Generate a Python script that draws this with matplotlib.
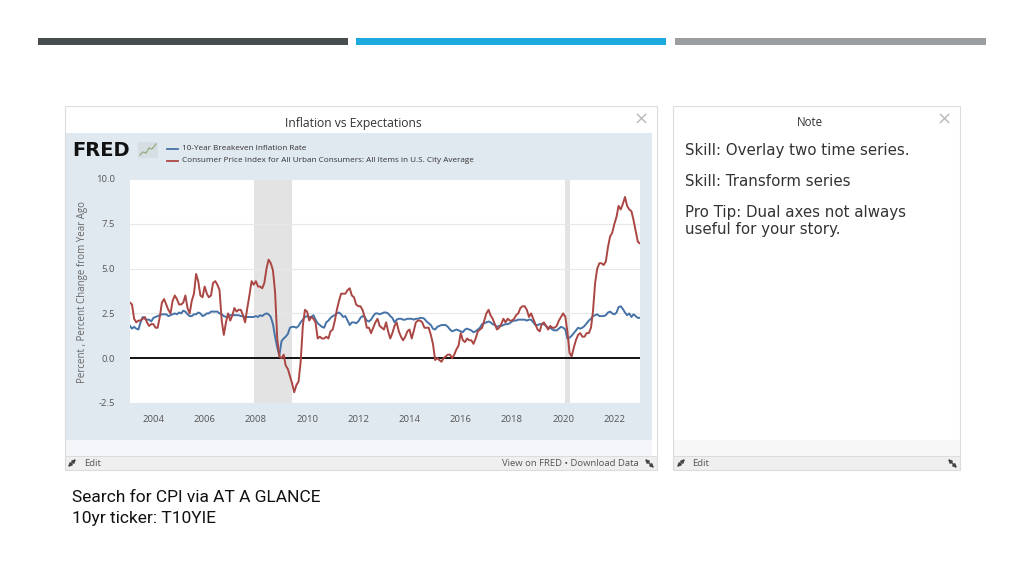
"""
Inflation vs Expectations slide (FRED screenshot recreated)
"""

import matplotlib
matplotlib.use('Agg')
import matplotlib.pyplot as plt
import matplotlib.dates as mdates
from matplotlib.patches import Rectangle
import pandas as pd

# monthly, Feb 2003 .. Jan 2023
months = pd.date_range('2003-02-01', '2023-01-01', freq='MS')

cpi_yoy = [
    3.1, 3.0, 2.2, 2.0, 2.1, 2.1, 2.2, 2.3, 2.0, 1.8, 1.9,        # 2003 (from Feb)
    1.9, 1.7, 1.7, 2.3, 3.1, 3.3, 3.0, 2.7, 2.5, 3.2, 3.5, 3.3,   # 2004
    3.0, 3.0, 3.1, 3.5, 2.8, 2.5, 3.2, 3.6, 4.7, 4.3, 3.5, 3.4,   # 2005
    4.0, 3.6, 3.4, 3.5, 4.2, 4.3, 4.1, 3.8, 2.1, 1.3, 2.0, 2.5,   # 2006
    2.1, 2.4, 2.8, 2.6, 2.7, 2.7, 2.4, 2.0, 2.8, 3.5, 4.3, 4.1,   # 2007
    4.3, 4.0, 4.0, 3.9, 4.2, 5.0, 5.5, 5.3, 4.9, 3.7, 1.1, 0.1,   # 2008
    0.0, 0.2, -0.4, -0.6, -1.0, -1.4, -1.9, -1.5, -1.3, -0.2, 1.8, 2.7,  # 2009
    2.6, 2.1, 2.3, 2.2, 2.0, 1.1, 1.2, 1.1, 1.1, 1.2, 1.1, 1.5,   # 2010
    1.6, 2.1, 2.7, 3.2, 3.6, 3.6, 3.6, 3.8, 3.9, 3.5, 3.4, 3.0,   # 2011
    2.9, 2.9, 2.7, 2.3, 1.7, 1.7, 1.4, 1.7, 2.0, 2.2, 1.8, 1.7,   # 2012
    1.6, 2.0, 1.5, 1.1, 1.4, 1.8, 2.0, 1.5, 1.2, 1.0, 1.2, 1.5,   # 2013
    1.6, 1.1, 1.5, 2.0, 2.1, 2.1, 2.0, 1.7, 1.7, 1.7, 1.3, 0.8,   # 2014
    -0.1, 0.0, -0.1, -0.2, 0.0, 0.1, 0.2, 0.2, 0.0, 0.2, 0.5, 0.7,  # 2015
    1.4, 1.0, 0.9, 1.1, 1.0, 1.0, 0.8, 1.1, 1.5, 1.6, 1.7, 2.1,   # 2016
    2.5, 2.7, 2.4, 2.2, 1.9, 1.6, 1.7, 1.9, 2.2, 2.0, 2.2, 2.1,   # 2017
    2.1, 2.2, 2.4, 2.5, 2.8, 2.9, 2.9, 2.7, 2.3, 2.5, 2.2, 1.9,   # 2018
    1.6, 1.5, 1.9, 2.0, 1.8, 1.6, 1.8, 1.7, 1.7, 1.8, 2.1, 2.3,   # 2019
    2.5, 2.3, 1.5, 0.3, 0.1, 0.6, 1.0, 1.3, 1.4, 1.2, 1.2, 1.4,   # 2020
    1.4, 1.7, 2.6, 4.2, 5.0, 5.3, 5.3, 5.2, 5.4, 6.2, 6.8, 7.0,   # 2021
    7.5, 7.9, 8.5, 8.3, 8.6, 9.0, 8.5, 8.3, 8.2, 7.7, 7.1, 6.5,   # 2022
    6.4,                                                          # 2023 (Jan)
]

breakeven = [
    1.80, 1.65, 1.75, 1.65, 1.60, 2.00, 2.30, 2.20, 2.15, 2.15, 2.05,        # 2003 (from Feb)
    2.25, 2.30, 2.35, 2.40, 2.45, 2.45, 2.45, 2.35, 2.40, 2.45, 2.50, 2.45,  # 2004
    2.55, 2.50, 2.65, 2.60, 2.45, 2.35, 2.35, 2.45, 2.45, 2.55, 2.50, 2.35,  # 2005
    2.40, 2.50, 2.50, 2.60, 2.60, 2.60, 2.60, 2.50, 2.45, 2.35, 2.30, 2.35,  # 2006
    2.40, 2.40, 2.40, 2.40, 2.40, 2.35, 2.35, 2.30, 2.30, 2.30, 2.30, 2.30,  # 2007
    2.35, 2.30, 2.40, 2.35, 2.45, 2.50, 2.45, 2.30, 1.90, 1.20, 0.60, 0.15,  # 2008
    0.95, 1.10, 1.20, 1.35, 1.70, 1.75, 1.75, 1.70, 1.80, 2.00, 2.15, 2.30,  # 2009
    2.35, 2.30, 2.30, 2.40, 2.15, 1.95, 1.85, 1.75, 1.70, 2.00, 2.10, 2.25,  # 2010
    2.35, 2.40, 2.50, 2.55, 2.45, 2.30, 2.35, 2.10, 1.85, 2.00, 2.00, 1.95,  # 2011
    2.05, 2.25, 2.35, 2.30, 2.10, 2.05, 2.15, 2.35, 2.50, 2.50, 2.45, 2.50,  # 2012
    2.55, 2.55, 2.50, 2.35, 2.25, 2.00, 2.15, 2.20, 2.20, 2.15, 2.15, 2.20,  # 2013
    2.20, 2.20, 2.15, 2.20, 2.20, 2.25, 2.25, 2.20, 2.05, 1.95, 1.85, 1.65,  # 2014
    1.60, 1.75, 1.80, 1.85, 1.85, 1.85, 1.75, 1.60, 1.50, 1.55, 1.60, 1.55,  # 2015
    1.50, 1.45, 1.60, 1.65, 1.60, 1.55, 1.45, 1.50, 1.60, 1.70, 1.90, 1.95,  # 2016
    2.00, 2.05, 2.00, 1.90, 1.85, 1.75, 1.80, 1.80, 1.85, 1.90, 1.90, 1.95,  # 2017
    2.05, 2.10, 2.10, 2.15, 2.15, 2.15, 2.15, 2.10, 2.15, 2.15, 2.00, 1.85,  # 2018
    1.85, 1.90, 1.90, 1.90, 1.80, 1.70, 1.70, 1.60, 1.55, 1.55, 1.65, 1.75,  # 2019
    1.70, 1.60, 1.10, 1.15, 1.25, 1.40, 1.55, 1.70, 1.65, 1.70, 1.80, 1.95,  # 2020
    2.10, 2.20, 2.35, 2.40, 2.45, 2.35, 2.35, 2.35, 2.40, 2.55, 2.60, 2.50,  # 2021
    2.45, 2.55, 2.85, 2.90, 2.75, 2.55, 2.40, 2.50, 2.30, 2.45, 2.35, 2.25,  # 2022
    2.25,                                                                    # 2023 (Jan)
]

recessions = [('2007-12-01', '2009-06-01'), ('2020-02-01', '2020-04-01')]
y_ticks = [-2.5, 0.0, 2.5, 5.0, 7.5, 10.0]
x_tick_years = list(range(2004, 2023, 2))

series_names = ['10-Year Breakeven Inflation Rate',
                'Consumer Price Index for All Urban Consumers: All Items in U.S. City Average']
note_lines = ['Skill: Overlay two time series.', 'Skill: Transform series',
              'Pro Tip: Dual axes not always\nuseful for your story.']
caption_lines = ['Search for CPI via AT A GLANCE', '10yr ticker: T10YIE']

BLUE = '#4572a7'
RED = '#aa4643'
W, H = 1024, 576

fig = plt.figure(figsize=(W / 100, H / 100), dpi=100)
fig.patch.set_facecolor('white')

# background "slide" axes in pixel coordinates
bg = fig.add_axes([0, 0, 1, 1])
bg.set_xlim(0, W)
bg.set_ylim(H, 0)
bg.axis('off')


def box(x0, y0, x1, y1, fc, ec='none', lw=0, z=1):
    bg.add_patch(Rectangle((x0, y0), x1 - x0, y1 - y0, facecolor=fc,
                           edgecolor=ec, linewidth=lw, zorder=z))


def resize_icon(x0, y0, x1, y1):
    bg.annotate('', xy=(x1, y1), xytext=(x0, y0), zorder=5,
                arrowprops=dict(arrowstyle='<|-|>', color='#444444', lw=1.1,
                                mutation_scale=5, shrinkA=0, shrinkB=0))


# top bars
box(38, 38, 348, 45, '#474d4f')
box(356, 38, 666, 45, '#1ca9de')
box(675, 38, 986, 45, '#9b9ea1')

# left FRED panel
box(65, 106, 657, 470, 'white')
box(65, 133, 652, 440, '#e1e9f0')
box(65, 440, 652, 456, '#f3f5f8')
box(65, 456, 657, 470, '#efefef', '#d8d8d8', 0.6)
box(65, 106, 657, 470, 'none', '#dcdcdc', 0.8, z=2)
bg.text(353, 123, 'Inflation vs Expectations', ha='center', va='center',
        fontsize=8.7, color='#333333', family='Open Sans')
bg.text(641, 120, '\u00d7', ha='center', va='center', fontsize=13, color='#bbbbbb')

bg.text(72, 151, 'FRED', ha='left', va='center', fontsize=14,
        fontweight='heavy', color='#111111', family='DejaVu Sans')
box(138, 142, 158, 158, '#d6dde3', z=2)
bg.plot([140, 143, 146, 149, 152, 156], [155, 152, 153, 148, 149, 144],
        color='#8fae7e', lw=0.9, zorder=3)

for i, (name, col) in enumerate(zip(series_names, [BLUE, RED])):
    yy = 149 + i * 11.5
    bg.plot([167, 178], [yy, yy], color=col, lw=1.3, zorder=3)
    bg.text(182, yy, name, ha='left', va='center', fontsize=5.9,
            color='#333333', family='Open Sans')

bg.text(82, 292, 'Percent , Percent Change from Year Ago', rotation=90,
        ha='center', va='center', fontsize=7, color='#666666', family='Open Sans')

resize_icon(68, 467, 76, 459)
bg.text(84, 463, 'Edit', ha='left', va='center', fontsize=6.8,
        color='#555555', family='Open Sans')
bg.text(639, 463, 'View on FRED \u2022 Download Data', ha='right', va='center',
        fontsize=6.8, color='#555555', family='Open Sans')
resize_icon(645, 459, 654, 468)

# note panel
box(673, 106, 960, 470, 'white')
box(673, 440, 960, 456, '#f7f7f7')
box(673, 456, 960, 470, '#efefef', '#d8d8d8', 0.6)
box(673, 106, 960, 470, 'none', '#dcdcdc', 0.8, z=2)
bg.text(810, 123, 'Note', ha='center', va='center', fontsize=8.3,
        color='#333333', family='Open Sans')
bg.text(944, 120, '\u00d7', ha='center', va='center', fontsize=13, color='#bbbbbb')
for txt, yy in zip(note_lines, [150, 181, 221]):
    bg.text(685, yy, txt, ha='left', va='center', fontsize=10.8,
            color='#333333', family='DejaVu Sans', linespacing=1.1)
resize_icon(677, 467, 685, 459)
bg.text(692, 463, 'Edit', ha='left', va='center', fontsize=6.8,
        color='#555555', family='Open Sans')
resize_icon(948, 459, 957, 468)

# slide caption
for txt, yy in zip(caption_lines, [497, 519]):
    bg.text(72, yy, txt, ha='left', va='center', fontsize=12.5,
            color='#111111', family='Roboto')

# chart axes
px0, py0, px1, py1 = 130, 179, 640, 403
ax = fig.add_axes([px0 / W, 1 - py1 / H, (px1 - px0) / W, (py1 - py0) / H])
ax.set_facecolor('white')
for s, e in recessions:
    ax.axvspan(pd.Timestamp(s), pd.Timestamp(e), color='#e3e3e3', lw=0, zorder=0)
ax.plot(months, breakeven, color=BLUE, lw=1.4, zorder=3)
ax.plot(months, cpi_yoy, color=RED, lw=1.4, zorder=4)
ax.axhline(0, color='black', lw=1.3, zorder=2)

ax.set_ylim(-2.5, 10.0)
ax.set_xlim(months[0], months[-1])
ax.set_yticks(y_ticks)
ax.set_yticklabels([f'{v:.1f}' for v in y_ticks])
ax.set_xticks([pd.Timestamp(f'{y}-01-01') for y in x_tick_years])
ax.xaxis.set_major_formatter(mdates.DateFormatter('%Y'))
ax.grid(axis='y', color='#e8e8e8', lw=0.8, zorder=1)
ax.set_axisbelow(True)
for sp in ax.spines.values():
    sp.set_visible(False)
ax.tick_params(axis='both', length=0, labelsize=6.8, colors='#555555')
ax.tick_params(axis='y', pad=11)
ax.tick_params(axis='x', pad=9)
for lab in ax.get_xticklabels() + ax.get_yticklabels():
    lab.set_family('Open Sans')

fig.savefig('out.png', dpi=100)
